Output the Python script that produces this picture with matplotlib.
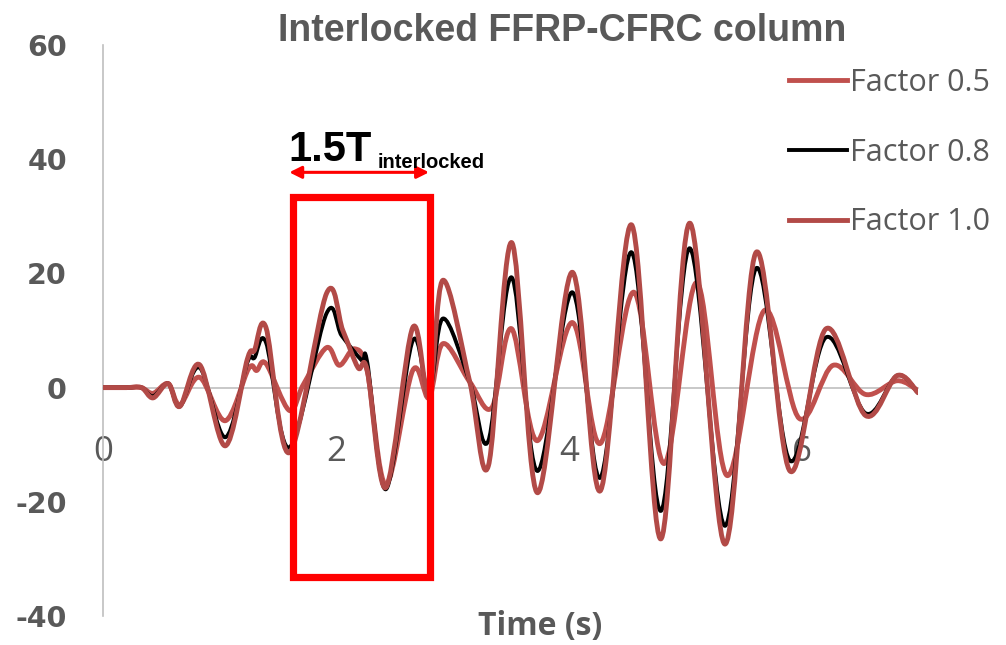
import numpy as np
import matplotlib
matplotlib.use("Agg")
import matplotlib.pyplot as plt
from matplotlib.path import Path
from matplotlib.patches import PathPatch, Rectangle
from matplotlib.lines import Line2D

plt.rcParams["font.family"] = ["Open Sans", "DejaVu Sans"]
plt.rcParams["axes.unicode_minus"] = False

# values (time in s, response)
t_f10 = [0, 0.20, 0.33, 0.43, 0.56, 0.66, 0.83, 1.05, 1.24, 1.30, 1.40, 1.60, 1.92,
         2.06, 2.19, 2.27, 2.43, 2.66, 2.80, 2.92, 3.15, 3.31, 3.51, 3.73, 4.03,
         4.27, 4.54, 4.79, 5.04, 5.34, 5.61, 5.90, 6.21, 6.55, 6.82, 7.0]
y_f10 = [0, 0, 0, -1.8, 0.7, -3.3, 4.0, -10.2, 5.0, 6.5, 10.5, -11.4, 16.5,
         10.0, 3.5, 3.0, -17.5, 10.5, -1.5, 18.8, 1.0, -13.7, 25.4, -18.4, 20.2,
         -18.1, 28.5, -26.5, 28.8, -27.4, 23.7, -14.6, 10.3, -4.9, 2.1, -0.9]

t_f08 = [0, 0.20, 0.33, 0.43, 0.56, 0.66, 0.83, 1.05, 1.24, 1.30, 1.40, 1.60, 1.92,
         2.05, 2.22, 2.27, 2.43, 2.66, 2.80, 2.92, 3.15, 3.31, 3.51, 3.73, 4.03,
         4.27, 4.54, 4.79, 5.04, 5.34, 5.61, 5.90, 6.21, 6.55, 6.82, 7.0]
y_f08 = [0, 0, 0, -1.5, 0.7, -3.3, 3.5, -8.7, 4.4, 5.2, 7.9, -10.5, 13.0,
         9.1, 4.8, 4.4, -17.8, 8.2, -1.0, 12.1, 1.0, -9.3, 19.3, -14.6, 16.7,
         -15.8, 23.7, -21.6, 24.4, -24.2, 20.9, -12.8, 8.8, -4.5, 2.1, -0.9]

t_f05 = [0, 0.20, 0.33, 0.43, 0.56, 0.66, 0.83, 1.05, 1.25, 1.32, 1.40, 1.60, 1.72,
         1.92, 2.03, 2.16, 2.27, 2.43, 2.66, 2.80, 2.92, 3.15, 3.34, 3.51, 3.73,
         4.03, 4.27, 4.56, 4.82, 5.10, 5.36, 5.68, 5.98, 6.27, 6.55, 6.82, 7.0]
y_f05 = [0, 0, 0, -1.0, 0.7, -3.0, 1.8, -5.8, 3.3, 3.0, 4.2, -4.0, 0.5,
         7.0, 3.9, 6.8, 2.8, -17.0, 3.0, -1.8, 7.7, 1.0, -3.5, 10.3, -9.3,
         11.4, -9.8, 16.7, -13.3, 18.4, -15.4, 13.5, -5.4, 3.9, -1.2, 1.2, -0.5]

labels = ["Factor 0.5", "Factor 0.8", "Factor 1.0"]
colors = ["#C0504D", "#000000", "#B24A47"]
widths = [3.5, 2.8, 3.5]

x_ticks = [0, 2, 4, 6]
y_ticks = [-40, -20, 0, 20, 40, 60]

# highlighted window (1.5 T interlocked)
box_t = (1.63, 2.81)
box_y = (-33.2, 33.3)


def smooth_path(xs, ys):
    # excel style smoothed line: catmull-rom segments as cubic beziers
    pts = np.column_stack([xs, ys]).astype(float)
    n = len(pts)
    verts = [pts[0]]
    codes = [Path.MOVETO]
    for i in range(n - 1):
        p0 = pts[max(i - 1, 0)]
        p1 = pts[i]
        p2 = pts[i + 1]
        p3 = pts[min(i + 2, n - 1)]
        verts += [p1 + (p2 - p0) / 6, p2 - (p3 - p1) / 6, p2]
        codes += [Path.CURVE4] * 3
    return Path(verts, codes)


fig = plt.figure(figsize=(10.06, 6.45), dpi=100)
ax = fig.add_axes([103 / 1006, 29 / 645, 815 / 1006, 571 / 645])

series = [(t_f05, y_f05), (t_f08, y_f08), (t_f10, y_f10)]
handles = []
for (ts, ys), lab, col, lw in zip(series, labels, colors, widths):
    ax.add_patch(PathPatch(smooth_path(ts, ys), fill=False, edgecolor=col,
                           lw=lw, capstyle="round", joinstyle="round", zorder=3))
    handles.append(Line2D([], [], color=col, lw=lw))

ax.set_xlim(0, 7)
ax.set_ylim(-40, 60)
ax.set_xticks(x_ticks)
ax.set_yticks(y_ticks)

for s in ["top", "right"]:
    ax.spines[s].set_visible(False)
ax.spines["left"].set_color("#BFBFBF")
ax.spines["left"].set_linewidth(1.2)
ax.spines["bottom"].set_position(("data", 0))
ax.spines["bottom"].set_color("#BFBFBF")
ax.spines["bottom"].set_linewidth(1.2)
ax.spines["bottom"].set_zorder(1)

ax.tick_params(axis="x", length=0, pad=34, labelsize=25, labelcolor="#595959")
ax.tick_params(axis="y", length=0, pad=26, labelsize=20.5, labelcolor="#595959")
for lab in ax.get_yticklabels():
    lab.set_fontweight("bold")
    lab.set_family(["DejaVu Sans"])

ax.set_title("Interlocked FFRP-CFRC column", fontsize=27, fontweight="bold",
             color="#595959", family=["Liberation Sans", "DejaVu Sans"],
             x=0.563, y=1.0, pad=3)
fig.text(540 / 1006, 1 - 627 / 645, "Time (s)", ha="center", va="center",
         fontsize=23, fontweight="bold", color="#595959")

# red window and arrow
ax.add_patch(Rectangle((box_t[0], box_y[0]), box_t[1] - box_t[0], box_y[1] - box_y[0],
                       fill=False, edgecolor="#FF0000", lw=5.2, zorder=5,
                       joinstyle="miter"))
ax.annotate("", xy=(1.60, 37.7), xytext=(2.80, 37.7),
            arrowprops=dict(arrowstyle="<|-|>", color="#FF0000", lw=2.2,
                            mutation_scale=18, shrinkA=0, shrinkB=0))
ax.text(1.59, 39.6, "1.5T", fontsize=30, fontweight="bold", color="black",
        family=["Liberation Sans", "DejaVu Sans"], va="baseline", ha="left")
ax.text(2.36, 38.4, "interlocked", fontsize=14.5, fontweight="bold", color="black",
        family=["Liberation Sans", "DejaVu Sans"], va="baseline", ha="left")

leg = ax.legend(handles, labels, loc="upper left",
                bbox_to_anchor=(789 / 1006, 1 - 68 / 645),
                bbox_transform=fig.transFigure, frameon=False, fontsize=22,
                handlelength=1.9, handletextpad=0.1, labelspacing=1.3,
                borderpad=0, borderaxespad=0)
for txt in leg.get_texts():
    txt.set_color("#595959")

fig.savefig("out.png", dpi=100)
